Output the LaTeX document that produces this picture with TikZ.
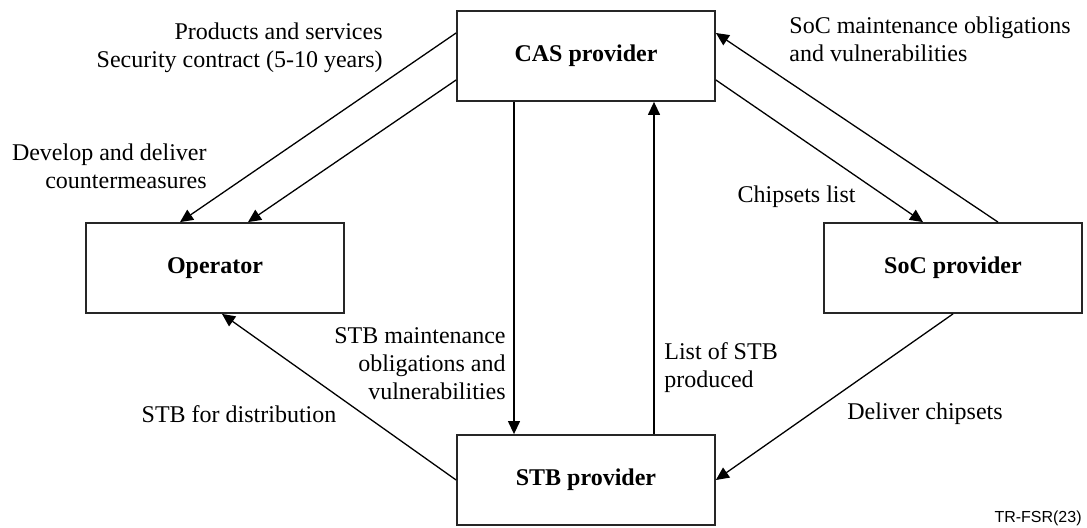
\documentclass[tikz,border=0pt]{standalone}
\usepackage{fontspec}
\setmainfont{Liberation Serif}
\newfontfamily\tagfont{Liberation Sans}
\usetikzlibrary{arrows.meta, positioning}

\tikzstyle{party} = [
    rectangle,
    minimum width=129pt,
    minimum height=45pt,
    line width=0.9pt,
    draw=black!85,
    font=\fontsize{12}{14}\selectfont\bfseries
]
\tikzstyle{note} = [
    inner sep=0pt,
    font=\fontsize{12}{14}\selectfont
]
\tikzstyle{arrow} = [line width=0.65pt,->,>={Triangle[length=6.5pt,width=6pt]}]

\begin{document}
\begin{tikzpicture}[x=0.5pt, y=-0.5pt, node distance=212pt]
\useasboundingbox (0,0) rectangle (1087,528);

\node (cas) [party] at (586,56) {CAS provider};

\node (stb) [party, below of=cas] {STB provider};

\node (operator) [party] at (215,268) {Operator};

\node (soc) [party] at (953,268) {SoC provider};

% flows between the parties
\draw [arrow] ([yshift=11.5pt]cas.west) -- ([xshift=-17.5pt]operator.north);
\draw [arrow] ([yshift=-12pt]cas.west) -- ([xshift=16.5pt]operator.north);
\draw [arrow] ([xshift=-36pt]cas.south) -- ([xshift=-36pt]stb.north);
\draw [arrow] ([xshift=34pt]stb.north) -- ([xshift=34pt]cas.south);
\draw [arrow] ([yshift=-12pt]cas.east) -- ([xshift=-15pt]soc.north);
\draw [arrow] ([xshift=22.5pt]soc.north) -- ([yshift=11.5pt]cas.east);
\draw [arrow] (soc.south) -- (stb.east);
\draw [arrow] (stb.west) -- ([xshift=3.5pt]operator.south);

% labels
\node (sales) [note, anchor=east, align=right] at (383,47.5)
{Products and services\\Security contract (5-10 years)};

\node (fixes) [note, anchor=east, align=right] at (207,166.5)
{Develop and deliver\\countermeasures};

\node (socduty) [note, anchor=west, align=left] at (789,39)
{SoC maintenance obligations\\and vulnerabilities};

\node (chiplist) [note, anchor=east] at (856,197) {Chipsets list};

\node (stbduty) [note, anchor=east, align=right] at (506,364)
{STB maintenance\\obligations and\\vulnerabilities};

\node (stblist) [note, anchor=west, align=left] at (664,368)
{List of STB\\produced};

\node (distrib) [note] at (239,414) {STB for distribution};

\node (chipdeliv) [note, anchor=west] at (847,414) {Deliver chipsets};

\node (figtag) [anchor=east, inner sep=0pt, font=\tagfont\fontsize{8}{10}\selectfont]
at (1082,518) {TR-FSR(23)};

\end{tikzpicture}
\end{document}
